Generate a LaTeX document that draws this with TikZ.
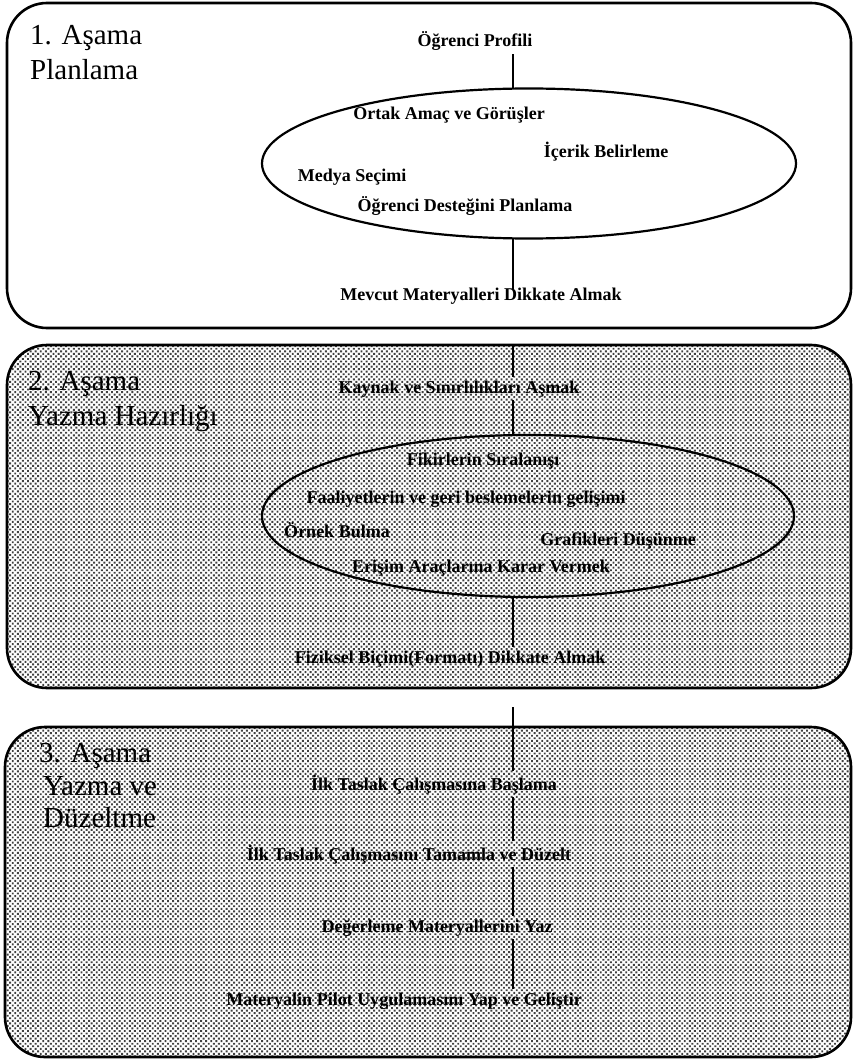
\documentclass[tikz,border=0pt]{standalone}
\usepackage{fontspec}
\setmainfont{Liberation Serif}
\usetikzlibrary{patterns.meta}
\tikzset{
  stagebox/.style={draw=black, line width=2.6pt, rounded corners=40pt},
  shaded/.style={pattern={Dots[distance=3.6pt, radius=1.35pt, angle=45]}, pattern color=black!75},
  oval/.style={draw=black, line width=2.2pt},
  stagetitle/.style={anchor=base west, inner sep=0pt, font=\fontsize{29}{33}\selectfont},
  lbl/.style={anchor=base, inner sep=3pt, font=\bfseries\fontsize{18}{21}\selectfont},
  conn/.style={draw=black, line width=2.4pt}
}
\begin{document}
\begin{tikzpicture}[x=1pt, y=-1pt]
\useasboundingbox (0,0) rectangle (852,1059);
\fill[white] (0,0) rectangle (852,1059);
\coordinate (spine) at (513,0);

% Stage boxes
\draw[stagebox] (7,3) rectangle (851,328);
\draw[stagebox, shaded] (7,345) rectangle (851,688);
\draw[stagebox, shaded] (5,727) rectangle (851,1057);

% Stage titles
\node[stagetitle] (t1a) at (30,45) {1. Aşama};
\node[stagetitle] (t1b) at (30,80) {Planlama};
\node[stagetitle] (t2a) at (28,390) {2. Aşama};
\node[stagetitle] (t2b) at (28,425) {Yazma Hazırlığı};
\node[stagetitle] (t3a) at (39,762) {3. Aşama};
\node[stagetitle] (t3b) at (43,795) {Yazma ve};
\node[stagetitle] (t3c) at (43,827) {Düzeltme};

% Stage 1
\draw[oval] (529,163.5) ellipse [x radius=267, y radius=75];
\node[draw=none, minimum width=534pt, minimum height=150pt, inner sep=0pt] (e1) at (529,163.5) {};
\node[lbl] (prof) at (475,47) {Öğrenci Profili};
\node[lbl] (ortak) at (449,120) {Ortak Amaç ve Görüşler};
\node[lbl] (icerik) at (606,158) {İçerik Belirleme};
\node[lbl] (medya) at (352,182) {Medya Seçimi};
\node[lbl] (destek) at (465,212) {Öğrenci Desteğini Planlama};
\node[lbl] (mevcut) at (481,300) {Mevcut Materyalleri Dikkate Almak};
\draw[conn] (prof.south -| spine) -- (e1.north -| spine);
\draw[conn] (e1.south -| spine) -- ([yshift=-6pt]mevcut.north -| spine);

% Stage 2
\draw[oval] (528,516) ellipse [x radius=266, y radius=81];
\node[draw=none, minimum width=532pt, minimum height=162pt, inner sep=0pt] (e2) at (528,516) {};
\coordinate (b2top) at (513,345);
\node[lbl] (kaynak) at (459,393) {Kaynak ve Sınırlılıkları Aşmak};
\node[lbl] (fikir) at (483,465) {Fikirlerin Sıralanışı};
\node[lbl] (faal) at (466,503) {Faaliyetlerin ve geri beslemelerin gelişimi};
\node[lbl] (ornek) at (337,537) {Örnek Bulma};
\node[lbl] (grafik) at (618,545) {Grafikleri Düşünme};
\node[lbl] (erisim) at (481,572) {Erişim Araçlarına Karar Vermek};
\node[lbl] (fiziksel) at (450,663) {Fiziksel Biçimi(Formatı) Dikkate Almak};
\draw[conn] (b2top) -- (kaynak.north -| spine);
\draw[conn] (kaynak.south -| spine) -- (e2.north -| spine);
\draw[conn] (e2.south -| spine) -- (fiziksel.north -| spine);

% Stage 3
\coordinate (gap3) at (513,707);
\node[lbl] (ilk1) at (434,790) {İlk Taslak Çalışmasına Başlama};
\node[lbl] (ilk2) at (409,860) {İlk Taslak Çalışmasını Tamamla ve Düzelt};
\node[lbl] (deg) at (437,932) {Değerleme Materyallerini Yaz};
\node[lbl] (pilot) at (404,1005) {Materyalin Pilot Uygulamasını Yap ve Geliştir};
\draw[conn] (gap3) -- (ilk1.north -| spine);
\draw[conn] (ilk1.south -| spine) -- (ilk2.north -| spine);
\draw[conn] (ilk2.south -| spine) -- (deg.north -| spine);
\draw[conn] (deg.south -| spine) -- (pilot.north -| spine);
\end{tikzpicture}
\end{document}
